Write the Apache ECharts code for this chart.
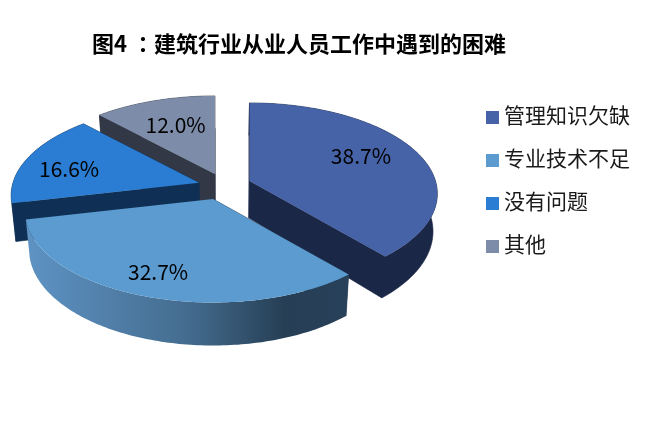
<!DOCTYPE html>
<html><head><meta charset="utf-8">
<style>html,body{margin:0;padding:0;background:#fff}#c{width:648px;height:425px}</style>
<script src="https://cdn.jsdelivr.net/npm/echarts@6/dist/echarts.min.js"></script>
</head><body><div id="c"></div>
<script>
const titleHead = '图4 ';
const titleColon = '：';
const titleTail = '建筑行业从业人员工作中遇到的困难';
const categories = ['管理知识欠缺', '专业技术不足', '没有问题', '其他'];
const values = [38.7, 32.7, 16.6, 12.0];

// Look of the slices
const topColors = ['#4763A8', '#5B9BD0', '#2A7DD2', '#7D8CA8'];
const wallColors = ['#1B2747', null, '#0F3054', '#323845'];
const explode = [[29.5, -9], [-7, 9], [-21, -7.3], [-5, -16]];
const labelFrac = [[0.67, 0.86], [0.82, 0.75], [0.76, 0.53], [0.65, 0.67]];
const drawOrder = [3, 2, 0, 1];
const view = { cx: 220, cy: 190, rx: 186, ry: 89, k: 0.14, depth: 37, shrink: 0.98 };
const FONT = '"Noto Sans CJK SC","Noto Sans",sans-serif';

const total = values.reduce((a, b) => a + b, 0);
const starts = values.map((_, i) => values.slice(0, i).reduce((a, b) => a + b, 0) / total * Math.PI * 2);

function project(theta, r, off) {
  const u = Math.sin(theta) * r, v = -Math.cos(theta) * r, w = 1 - view.k * v;
  const x = view.cx + off[0] + view.rx * u / w;
  const y = view.cy + off[1] + view.ry * v / w;
  return { x, y, w };
}
function topPt(p) { return [p.x, p.y]; }
function botPt(p) {
  return [view.cx + (p.x - view.cx) * view.shrink, p.y + view.depth / p.w];
}

function renderSlice(i) {
  const off = explode[i];
  const a0 = starts[i], a1 = a0 + values[i] / total * Math.PI * 2;
  const n = Math.ceil((a1 - a0) / (Math.PI / 180));
  const arc = [];
  for (let s = 0; s <= n; s++) arc.push(project(a0 + (a1 - a0) * s / n, 1, off));
  const apex = project(0, 0, off);
  const dark = wallColors[i] || '#263F55';
  const poly = (points, fill, edge) => ({
    type: 'polygon', shape: { points },
    style: edge ? { fill, stroke: edge, lineWidth: 0.6 } : { fill }
  });
  const first = arc[0];
  const band = arc.map(topPt).concat(arc.slice().reverse().map(botPt));
  const children = [
    poly([topPt(apex), topPt(first), botPt(first), botPt(apex)], dark, dark)
  ];
  if (wallColors[i]) {
    // end wall and rim as one outline, so no seam shows where they meet
    children.push(poly(
      [topPt(apex)].concat(arc.slice().reverse().map(topPt), arc.map(botPt), [botPt(apex)]),
      dark, dark
    ));
  } else {
    children.push(poly(band, new echarts.graphic.LinearGradient(0, 0, 1, 0, [
      { offset: 0, color: '#5E93C4' },
      { offset: 0.5, color: '#446C8F' },
      { offset: 0.8, color: '#263F55' },
      { offset: 1, color: '#28415A' }
    ])));
  }
  children.push(poly([topPt(apex)].concat(arc.map(topPt)), topColors[i]));
  const mid = (a0 + a1) / 2, f = labelFrac[i];
  const lu = Math.sin(mid), lv = -Math.cos(mid), lw = 1 - view.k * lv;
  children.push({
    type: 'text',
    style: {
      x: apex.x + view.rx * lu / lw * f[0],
      y: apex.y + view.ry * lv / lw * f[1],
      text: values[i].toFixed(1) + '%',
      align: 'center', verticalAlign: 'middle',
      font: '21px ' + FONT, fill: '#000'
    }
  });
  return { type: 'group', children };
}

const titleBase = { fontSize: 22, fontWeight: 'bold', color: '#000' };
const chart = echarts.init(document.getElementById('c'), null, { renderer: 'canvas' });
chart.setOption({
  animation: false,
  backgroundColor: '#fff',
  title: {
    text: '{a|' + titleHead + '}{b|' + titleColon + '}{a|' + titleTail + '}', left: 87, top: 28,
    textStyle: {
      fontFamily: FONT, fontSize: 22, fontWeight: 'bold', color: '#000',
      rich: {
        a: Object.assign({ fontFamily: FONT }, titleBase),
        b: Object.assign({ fontFamily: '"Noto Sans CJK TC"' }, titleBase)
      }
    }
  },
  legend: {
    data: categories, orient: 'vertical', left: 481, top: 100,
    icon: 'rect', itemWidth: 13, itemHeight: 13, itemGap: 22,
    formatter: name => '{t|' + name + '}',
    textStyle: {
      rich: { t: { fontFamily: FONT, fontSize: 21, color: '#1a1a1a', padding: [0, 0, 4, 0] } }
    },
    selectedMode: false
  },
  series: drawOrder.map(i => ({
    type: 'custom', name: categories[i], coordinateSystem: 'none',
    itemStyle: { color: topColors[i] },
    data: [values[i]],
    renderItem: () => renderSlice(i)
  }))
});
</script></body></html>
